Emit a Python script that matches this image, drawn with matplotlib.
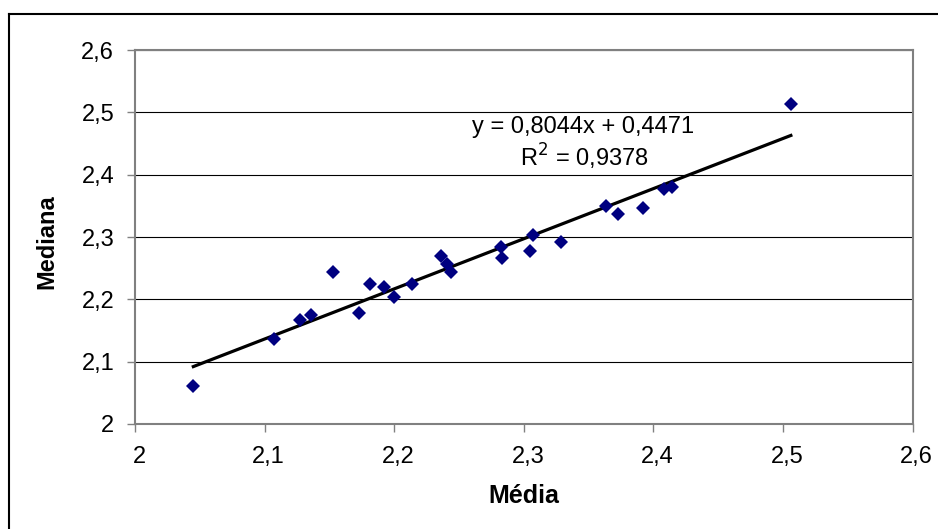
import matplotlib
matplotlib.use("Agg")
import matplotlib.pyplot as plt
import matplotlib.transforms as mtransforms
from matplotlib.lines import Line2D
import numpy as np

plt.rcParams['font.family'] = ['Liberation Sans', 'DejaVu Sans']

# Média vs Mediana
media = [2.045, 2.107, 2.127, 2.136, 2.153, 2.173, 2.181, 2.192, 2.200, 2.214,
         2.236, 2.241, 2.244, 2.282, 2.283, 2.305, 2.307, 2.329, 2.363, 2.373,
         2.392, 2.408, 2.414, 2.506]
mediana = [2.061, 2.136, 2.167, 2.175, 2.244, 2.178, 2.225, 2.220, 2.204, 2.225,
           2.270, 2.257, 2.244, 2.284, 2.266, 2.278, 2.303, 2.292, 2.350, 2.337,
           2.347, 2.377, 2.380, 2.514]

slope = 0.8044
intercept = 0.4471
r2 = 0.9378

ticks = [2.0, 2.1, 2.2, 2.3, 2.4, 2.5, 2.6]
tick_labels = ['2', '2,1', '2,2', '2,3', '2,4', '2,5', '2,6']

fig = plt.figure(figsize=(9.38, 5.29), dpi=100)
ax = fig.add_axes([135 / 938, 1 - 424 / 529, (912.7 - 135) / 938, (424 - 50) / 529])

# trend line
xl = np.array([min(media), max(media)])
ax.plot(xl, slope * xl + intercept, color='black', lw=2.3, zorder=3)
ax.plot(media, mediana, 'D', color='#000080', markersize=7, markeredgewidth=0, zorder=4)

ax.set_xlim(2.0, 2.6)
ax.set_ylim(2.0, 2.6)
ax.set_xticks(ticks)
ax.set_xticklabels(tick_labels)
ax.set_yticks(ticks)
ax.set_yticklabels(tick_labels)
ax.tick_params(axis='both', labelsize=17, length=6, width=1, color='#808080')
ax.tick_params(axis='x', pad=10)
ax.tick_params(axis='y', pad=9)
ax.grid(axis='y', color='black', lw=0.8)
ax.set_axisbelow(True)
for s in ax.spines.values():
    s.set_color('#808080')
    s.set_linewidth(1.5)

# Excel draws the x labels a few pixels right of the ticks
shift = mtransforms.ScaledTranslation(4 / 100, 0, fig.dpi_scale_trans)
for lbl in ax.get_xticklabels():
    lbl.set_transform(lbl.get_transform() + shift)

ax.set_xlabel('Média', fontsize=18, fontweight='bold', va='center')
ax.set_ylabel('Mediana', fontsize=17, fontweight='bold', va='center')
ax.xaxis.set_label_coords(0.5, (424 - 496) / 374)
ax.yaxis.set_label_coords((47 - 135) / 777.7, 0.487)

ax.text(2.3457, 2.477, 'y = 0,8044x + 0,4471', fontsize=17, ha='center', va='center')
ax.text(2.347, 2.429, 'R$^2$ = 0,9378', fontsize=17, ha='center', va='center')

# outer chart frame
fig.add_artist(Line2D([9 / 938, 1.01], [1 - 14 / 529] * 2, transform=fig.transFigure, color='black', lw=1.5))
fig.add_artist(Line2D([9 / 938] * 2, [-0.01, 1 - 14 / 529], transform=fig.transFigure, color='black', lw=1.5))

fig.savefig('out.png', dpi=100)
